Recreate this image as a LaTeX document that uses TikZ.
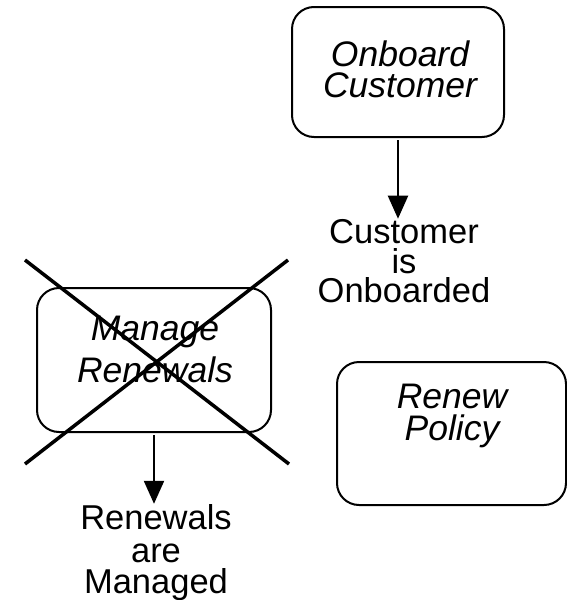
\documentclass[tikz,border=0pt]{standalone}
\usepackage{fontspec}
\setmainfont{Liberation Sans}
\usetikzlibrary{arrows.meta}
\tikzset{
  boxshape/.style={draw, line width=2pt, rounded corners=22pt, inner sep=0pt},
  boxtext/.style={font=\fontsize{35.5}{40}\selectfont\itshape, inner sep=0pt, anchor=base},
  plaintext/.style={font=\fontsize{34.5}{40}\selectfont, inner sep=0pt, anchor=base},
  flow/.style={line width=2.2pt, -{Triangle[width=20pt,length=23pt]}},
  crossline/.style={line width=3.5pt}
}
\begin{document}
\begin{tikzpicture}[x=1pt,y=-1pt]
\useasboundingbox (0,0) rectangle (567,600);
% boxes
\node[boxshape, minimum width=212pt, minimum height=130pt] (ob) at (398,72) {};
\node[boxshape, minimum width=234pt, minimum height=144pt] (mr) at (154,360) {};
\node[boxshape, minimum width=229pt, minimum height=143pt] (rp) at (451.5,433.5) {};
% box texts
\node[boxtext] (ob1) at (400,66) {Onboard};
\node[boxtext] (ob2) at (400,97) {Customer};
\node[boxtext] (mr1) at (155,340) {Manage};
\node[boxtext] (mr2) at (155,382) {Renewals};
\node[boxtext] (rp1) at (452,408) {Renew};
\node[boxtext] (rp2) at (452,440) {Policy};
% event texts
\node[plaintext] (ce1) at (404,243) {Customer};
\node[plaintext] (ce2) at (404,273) {is};
\node[plaintext] (ce3) at (404,302) {Onboarded};
\node[plaintext] (re1) at (156,529) {Renewals};
\node[plaintext] (re2) at (156,562) {are};
\node[plaintext] (re3) at (156,593) {Managed};
% connectors
\draw[flow] ([yshift=-2pt]ob.south) -- (ob.south |- ce1.north);
\draw[flow] ([yshift=-2pt]mr.south) -- (mr.south |- re1.north);
% cross over Manage Renewals
\coordinate (xa) at (25,260);
\coordinate (xb) at (289,464);
\coordinate (xc) at (288,260);
\coordinate (xd) at (25,464);
\draw[crossline] (xa) -- (xb);
\draw[crossline] (xc) -- (xd);
\end{tikzpicture}
\end{document}
